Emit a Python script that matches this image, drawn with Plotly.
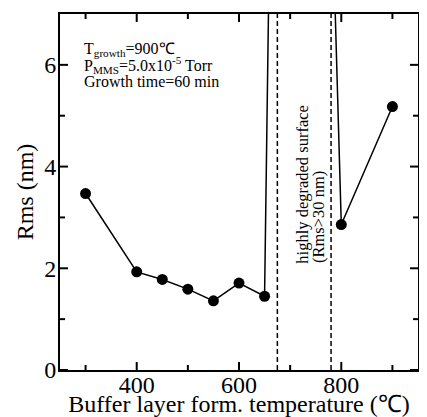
import plotly.graph_objects as go

# Data
temps = [300, 400, 450, 500, 550, 600, 650, 700, 800, 900]
rms = [3.47, 1.93, 1.78, 1.59, 1.36, 1.71, 1.45, 38.0, 2.86, 5.18]
degraded_bounds = [675, 780]
x_tick_vals = [400, 600, 800]
x_minor_vals = [300, 500, 700, 900]
y_tick_vals = [0, 2, 4, 6]
y_minor_vals = [1, 3, 5]
info_lines = ["T<sub>growth</sub>=900℃",
              "P<sub>MMS</sub>=5.0x10<sup>-5</sup> Torr",
              "Growth time=60 min"]
info_y = [6.31, 6.0, 5.67]
degraded_lines = ["highly degraded surface", "(Rms>30 nm)"]
degraded_x = [725, 754]

FONT = "Liberation Serif"
X_RANGE = [250, 950]
Y_RANGE = [0, 7]
MAJOR_LEN = 8
MINOR_LEN = 5

fig = go.Figure()
fig.add_trace(go.Scatter(
    x=temps, y=rms, mode="lines+markers",
    line=dict(color="black", width=1.5),
    marker=dict(color="black", size=11),
    cliponaxis=True, showlegend=False,
))

for xb in degraded_bounds:
    fig.add_shape(type="line", x0=xb, x1=xb, y0=0, y1=1, xref="x", yref="paper",
                  line=dict(color="black", width=1.5, dash="5px,3px"))

# inward tick marks on all four sides (positions taken from the tick lists)
tick_line = dict(color="black", width=2)
for vals, ln in ((x_tick_vals, MAJOR_LEN), (x_minor_vals, MINOR_LEN)):
    for v in vals:
        fig.add_shape(type="line", xref="x", x0=v, x1=v, yref="paper",
                      ysizemode="pixel", yanchor=0, y0=0, y1=ln, line=tick_line)
        fig.add_shape(type="line", xref="x", x0=v, x1=v, yref="paper",
                      ysizemode="pixel", yanchor=1, y0=0, y1=-ln, line=tick_line)
for vals, ln in ((y_tick_vals, MAJOR_LEN), (y_minor_vals, MINOR_LEN)):
    for v in vals:
        fig.add_shape(type="line", yref="y", y0=v, y1=v, xref="paper",
                      xsizemode="pixel", xanchor=0, x0=0, x1=ln, line=tick_line)
        fig.add_shape(type="line", yref="y", y0=v, y1=v, xref="paper",
                      xsizemode="pixel", xanchor=1, x0=0, x1=-ln, line=tick_line)

for txt, yy in zip(info_lines, info_y):
    fig.add_annotation(x=293, y=yy, xref="x", yref="y", text=txt, showarrow=False,
                       xanchor="left", yanchor="middle",
                       font=dict(family=FONT, size=16, color="black"))

for txt, xx in zip(degraded_lines, degraded_x):
    fig.add_annotation(x=xx, y=2.06, xref="x", yref="y", text=txt, showarrow=False,
                       textangle=-90, xanchor="center", yanchor="bottom",
                       font=dict(family=FONT, size=16.5, color="black"))

fig.update_layout(
    xaxis=dict(range=X_RANGE, tickvals=x_tick_vals, ticks="",
               showline=True, linecolor="black", linewidth=2, mirror=True,
               showgrid=False, zeroline=False,
               tickfont=dict(family=FONT, size=24, color="black"),
               ticklabelstandoff=-8,
               title=dict(text="Buffer layer form. temperature (℃)", standoff=0,
                          font=dict(family=FONT, size=24, color="black"))),
    yaxis=dict(range=Y_RANGE, tickvals=y_tick_vals, ticks="",
               showline=True, linecolor="black", linewidth=2, mirror=True,
               showgrid=False, zeroline=False,
               tickfont=dict(family=FONT, size=24, color="black"),
               ticklabelstandoff=-3,
               title=dict(text="Rms (nm)", standoff=4,
                          font=dict(family=FONT, size=24, color="black"))),
    width=419, height=409,
    margin=dict(l=52, r=9, t=6, b=47, autoexpand=False),
    plot_bgcolor="white", paper_bgcolor="white",
    font=dict(family=FONT, color="black"),
)

fig.write_html("out.html")
